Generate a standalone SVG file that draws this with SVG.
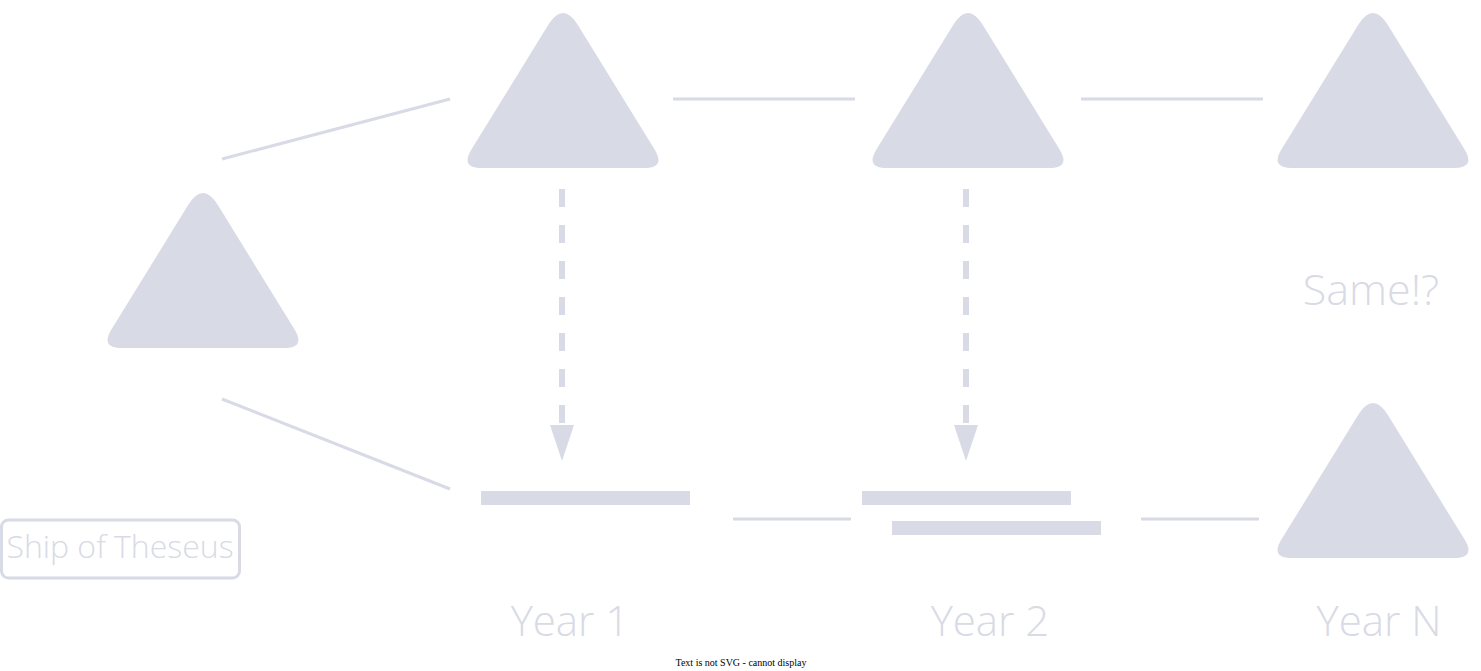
<svg xmlns="http://www.w3.org/2000/svg" xmlns:xlink="http://www.w3.org/1999/xlink" width="1481" height="671" viewBox="0 0 1481 671">
<style>
.shape{fill:#D8DAE5;stroke:none}
.conn{stroke:#D8DAE5;stroke-width:3;fill:none}
.dash{stroke:#D8DAE5;stroke-width:6;fill:none;stroke-dasharray:18 18}
.lbl{font-family:"Open Sans","Liberation Sans",sans-serif;font-weight:300;fill:#D8DAE5;text-anchor:middle}
</style>
<defs>
<path id="tri" d="M -14.7,11.8 Q 0,-12 14.7,11.8 L 91.45,136.3 Q 103,155 81,155 L -81,155 Q -103,155 -91.45,136.3 Z"/>
</defs>
<rect width="1481" height="671" fill="#ffffff"/>
<g id="connectors">
<line class="conn" x1="222" y1="159" x2="450" y2="99"/>
<line class="conn" x1="673" y1="99" x2="855" y2="99"/>
<line class="conn" x1="1081" y1="99" x2="1263" y2="99"/>
<line class="conn" x1="222" y1="399" x2="450" y2="489"/>
<line class="conn" x1="733" y1="519" x2="851" y2="519"/>
<line class="conn" x1="1141" y1="519" x2="1259" y2="519"/>
<line class="dash" x1="562" y1="189" x2="562" y2="425"/>
<path d="M550,425 L574,425 L562,461 Z" fill="#D8DAE5"/>
<line class="dash" x1="966" y1="189" x2="966" y2="425"/>
<path d="M954,425 L978,425 L966,461 Z" fill="#D8DAE5"/>
</g>
<g id="ship-origin"><use xlink:href="#tri" href="#tri" class="shape" transform="translate(203,193)"/></g>
<g id="ship-year1"><use xlink:href="#tri" href="#tri" class="shape" transform="translate(563,13)"/></g>
<g id="ship-year2"><use xlink:href="#tri" href="#tri" class="shape" transform="translate(968,13)"/></g>
<g id="ship-yearN-top"><use xlink:href="#tri" href="#tri" class="shape" transform="translate(1373,13)"/></g>
<g id="ship-yearN-bottom"><use xlink:href="#tri" href="#tri" class="shape" transform="translate(1373,403)"/></g>
<g id="plank-year1"><rect class="shape" x="481" y="491" width="209" height="14"/></g>
<g id="planks-year2">
<rect class="shape" x="862" y="491" width="209" height="14"/>
<rect class="shape" x="892" y="521" width="209" height="14"/>
</g>
<g id="title">
<rect x="1.5" y="520" width="238" height="58" rx="7" fill="none" stroke="#D8DAE5" stroke-width="3"/>
<text class="lbl" x="120" y="558" font-size="32">Ship of Theseus</text>
</g>
<g id="label-same"><text class="lbl" x="1371" y="305" font-size="43">Same!?</text></g>
<g id="label-year1"><text class="lbl" x="570" y="636" font-size="42">Year 1</text></g>
<g id="label-year2"><text class="lbl" x="990" y="636" font-size="42">Year 2</text></g>
<g id="label-yearN"><text class="lbl" x="1379" y="636" font-size="42">Year N</text></g>
<g id="notice"><text x="741" y="666" font-family="Liberation Serif, serif" font-size="10" fill="#000000" text-anchor="middle">Text is not SVG - cannot display</text></g>
</svg>
